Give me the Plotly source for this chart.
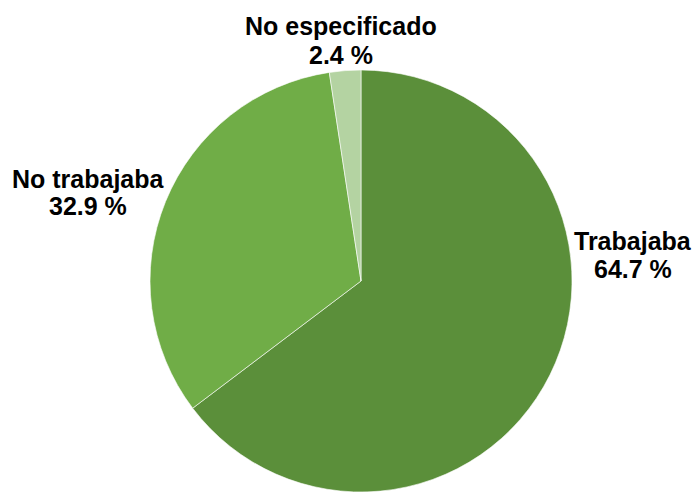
import plotly.graph_objects as go

categories = ["Trabajaba", "No trabajaba", "No especificado"]
values = [64.7, 32.9, 2.4]
colors = ["#5B8F3A", "#70AD47", "#B4D3A2"]
value_labels = ["64.7 %", "32.9 %", "2.4 %"]

# label anchor positions (pixels) for name line and value line
label_x = [633, 88, 341]
label_y_name = [241.4, 178.7, 25.7]
label_y_val = [268.7, 206.4, 54.7]

W, H = 695, 492

fig = go.Figure(go.Pie(
    labels=categories,
    values=values,
    sort=False,
    direction="clockwise",
    rotation=0,
    marker=dict(colors=colors, line=dict(color="white", width=0.6)),
    textinfo="none",
    hoverinfo="label+percent",
    showlegend=False,
    domain=dict(x=[148 / W, 574 / W], y=[0.0, 1 - 70 / H]),
))

font = dict(family="Liberation Sans, Arial, sans-serif", size=25, color="black")
for i, cat in enumerate(categories):
    fig.add_annotation(text="<b>%s</b>" % cat, x=label_x[i] / W, y=1 - label_y_name[i] / H,
                       xref="paper", yref="paper", showarrow=False,
                       xanchor="center", yanchor="middle", font=font)
    fig.add_annotation(text="<b>%s</b>" % value_labels[i], x=label_x[i] / W, y=1 - label_y_val[i] / H,
                       xref="paper", yref="paper", showarrow=False,
                       xanchor="center", yanchor="middle", font=font)

fig.update_layout(
    width=W, height=H,
    margin=dict(l=0, r=0, t=0, b=0),
    paper_bgcolor="white",
    plot_bgcolor="white",
)

fig.write_html("out.html", config={"displayModeBar": False},
               post_script="document.body.style.margin='0';document.body.style.overflow='hidden';")
